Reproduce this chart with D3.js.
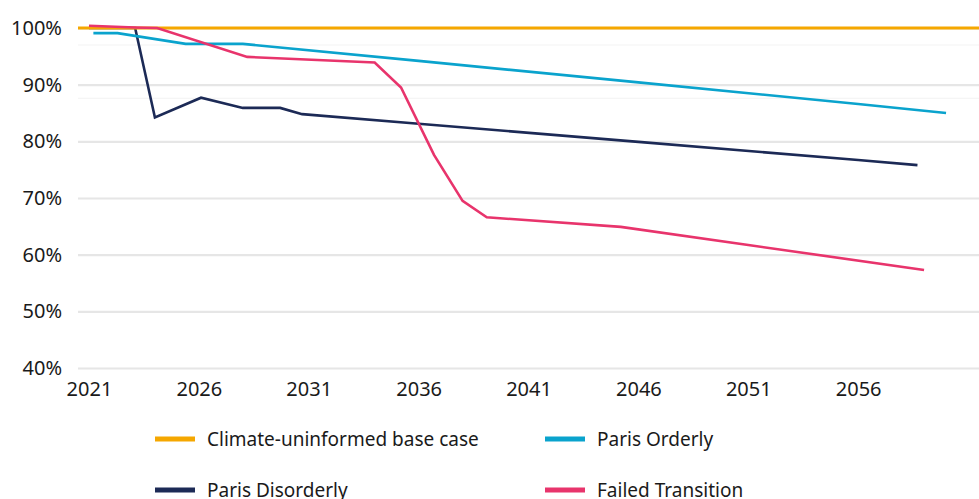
<!DOCTYPE html>
<html>
<head>
<meta charset="utf-8">
<script src="https://cdn.jsdelivr.net/npm/d3@7"></script>
<style>
  html, body { margin: 0; padding: 0; background: #fff; }
  svg { display: block; }
  text { font-family: "Noto Sans", "Open Sans", sans-serif; fill: #1a1a1a; }
</style>
</head>
<body>
<svg id="chart" width="979" height="499"></svg>
<script>
// ---- data ----
const xTickYears = [2021, 2026, 2031, 2036, 2041, 2046, 2051, 2056];
const yTickValues = [40, 50, 60, 70, 80, 90, 100];
const faintGridValues = [97, 87.6];

const baseCaseYears = [2021, 2060];
const baseCaseValues = [100, 100];

const orderlyYears  = [2021.2, 2022.3, 2025.4, 2028, 2036, 2046, 2056, 2060];
const orderlyValues = [99.1, 99.1, 97.2, 97.2, 94.2, 90.4, 86.6, 85.0];

const disorderlyYears  = [2021, 2023.1, 2024, 2026.1, 2028, 2029.7, 2030.7, 2036, 2046, 2056, 2058.7];
const disorderlyValues = [100, 100, 84.2, 87.7, 85.9, 85.9, 84.8, 83.1, 79.9, 76.7, 75.8];

const failedYears  = [2021, 2023.1, 2024.1, 2028.2, 2034.0, 2035.2, 2036.7, 2038.0, 2039.1, 2045.2, 2051, 2059.0];
const failedValues = [100.4, 100.1, 100.0, 94.9, 93.9, 89.5, 77.6, 69.5, 66.6, 64.9, 61.7, 57.3];

const seriesNames = ["Climate-uninformed base case", "Paris Orderly", "Paris Disorderly", "Failed Transition"];
const seriesColors = ["#f5a700", "#0aa3cd", "#1c2a56", "#e8346c"];

// ---- chart ----
const svg = d3.select("#chart");
const plotLeft = 78, plotRight = 979, plotTop = 28, plotBottom = 368;

const x = d3.scaleLinear().domain([2020.5, 2061.5]).range([plotLeft, plotRight]);
const y = d3.scaleLinear().domain([40, 100]).range([plotBottom, plotTop]);

// faint minor lines
svg.append("g").selectAll("line").data(faintGridValues).join("line")
  .attr("x1", plotLeft).attr("x2", plotRight)
  .attr("y1", d => y(d)).attr("y2", d => y(d))
  .attr("stroke", "#f3f3f3").attr("stroke-width", 1);

// y axis with gridlines
const yAxis = d3.axisLeft(y).tickValues(yTickValues)
  .tickFormat(d => d + "%")
  .tickSize(-(plotRight - plotLeft)).tickPadding(16);
const gy = svg.append("g").attr("transform", `translate(${plotLeft},0)`).call(yAxis);
gy.select(".domain").remove();
gy.selectAll(".tick line").attr("stroke", "#e6e6e6").attr("stroke-width", 2.2);
gy.selectAll(".tick text").attr("font-size", 20).attr("fill", "#1a1a1a")
  .attr("font-family", "Noto Sans, sans-serif");

// x axis labels
const xAxis = d3.axisBottom(x).tickValues(xTickYears).tickFormat(d3.format("d"))
  .tickSize(0).tickPadding(14);
const gx = svg.append("g").attr("transform", `translate(0,${plotBottom})`).call(xAxis);
gx.select(".domain").remove();
gx.selectAll(".tick text").attr("font-size", 20).attr("fill", "#1a1a1a")
  .attr("font-family", "Noto Sans, sans-serif");

const line = d3.line().x(d => x(d[0])).y(d => y(d[1]));
const zip = (a, b) => a.map((v, i) => [v, b[i]]);

// Paris Disorderly (drawn beneath base case)
svg.append("path").datum(zip(disorderlyYears, disorderlyValues))
  .attr("d", line).attr("fill", "none").attr("stroke", seriesColors[2])
  .attr("stroke-width", 2.6).attr("stroke-linejoin", "miter");

// base case across full width
svg.append("line")
  .attr("x1", plotLeft).attr("x2", plotRight)
  .attr("y1", y(baseCaseValues[0])).attr("y2", y(baseCaseValues[1]))
  .attr("stroke", seriesColors[0]).attr("stroke-width", 3);

svg.append("path").datum(zip(orderlyYears, orderlyValues))
  .attr("d", line).attr("fill", "none").attr("stroke", seriesColors[1])
  .attr("stroke-width", 2.6);

svg.append("path").datum(zip(failedYears, failedValues))
  .attr("d", line).attr("fill", "none").attr("stroke", seriesColors[3])
  .attr("stroke-width", 2.6);

// legend
const legendPos = [[155, 439], [545, 439], [155, 490], [545, 490]];
const lg = svg.append("g");
seriesNames.forEach((name, i) => {
  const [lx, ly] = legendPos[i];
  lg.append("line").attr("x1", lx).attr("x2", lx + 40)
    .attr("y1", ly).attr("y2", ly)
    .attr("stroke", seriesColors[i]).attr("stroke-width", 5);
  lg.append("text").attr("x", lx + 52).attr("y", ly + 7)
    .attr("font-size", 19).text(name);
});
</script>
</body>
</html>
